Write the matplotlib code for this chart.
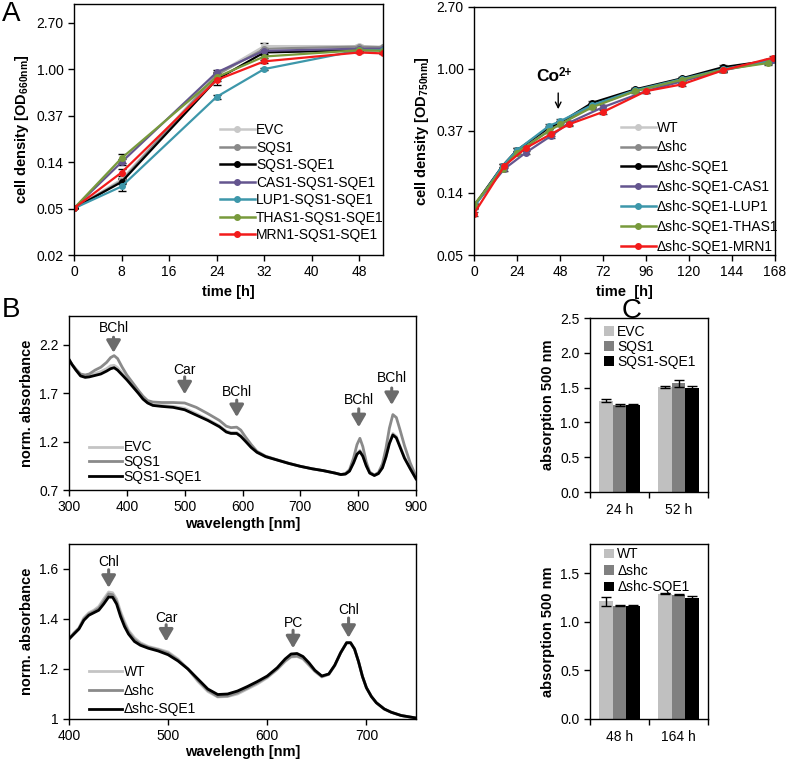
import numpy as np
import matplotlib
matplotlib.use('Agg')
import matplotlib.pyplot as plt
from matplotlib.patches import Patch
from matplotlib.lines import Line2D

plt.rcParams['font.family'] = ['Liberation Sans', 'DejaVu Sans']
plt.rcParams['mathtext.fontset'] = 'custom'
plt.rcParams['mathtext.rm'] = 'Liberation Sans'
plt.rcParams['mathtext.bf'] = 'Liberation Sans:bold'
plt.rcParams['font.size'] = 10

#%% Data
#-----------------------------------------------------------------------------------------------------------------------
# A left: growth, OD660
t_left = [0, 8, 24, 32, 48, 52]
left_names = ['EVC', 'SQS1', 'SQS1-SQE1', 'CAS1-SQS1-SQE1', 'LUP1-SQS1-SQE1', 'THAS1-SQS1-SQE1', 'MRN1-SQS1-SQE1']
od_evc = [0.05, 0.093, 0.90, 1.64, 1.64, 1.62]
od_sqs1 = [0.05, 0.090, 0.88, 1.55, 1.62, 1.60]
od_sqs1_sqe1 = [0.05, 0.088, 0.80, 1.43, 1.50, 1.51]
od_cas1 = [0.05, 0.135, 0.93, 1.48, 1.55, 1.55]
od_lup1 = [0.05, 0.080, 0.55, 1.00, 1.50, 1.50]
od_thas1 = [0.05, 0.147, 0.84, 1.31, 1.50, 1.48]
od_mrn1 = [0.05, 0.108, 0.79, 1.18, 1.43, 1.40]
err_evc = [0, 0.004, 0.03, 0.10, 0.03, 0.02]
err_sqs1 = [0, 0.004, 0.03, 0.04, 0.03, 0.02]
err_sqs1_sqe1 = [0, 0.004, 0.03, 0.04, 0.03, 0.02]
err_cas1 = [0, 0.008, 0.04, 0.05, 0.03, 0.02]
err_lup1 = [0, 0.008, 0.02, 0.03, 0.03, 0.02]
err_thas1 = [0, 0.015, 0.03, 0.04, 0.03, 0.02]
err_mrn1 = [0, 0.008, 0.08, 0.04, 0.03, 0.02]

# A right: growth, OD750
t_right1 = [0, 16, 24, 42, 48, 66, 90, 116, 139, 164]
t_right2 = [0, 17, 29, 43, 53, 72, 96, 116, 139, 167]
right_names = ['WT', '\u0394shc', '\u0394shc-SQE1', '\u0394shc-SQE1-CAS1', '\u0394shc-SQE1-LUP1',
               '\u0394shc-SQE1-THAS1', '\u0394shc-SQE1-MRN1']
od_wt = [0.11, 0.21, 0.27, 0.38, 0.42, 0.56, 0.71, 0.84, 1.00, 1.13]
od_shc = [0.11, 0.20, 0.26, 0.37, 0.41, 0.55, 0.70, 0.83, 0.98, 1.12]
od_shc_sqe1 = [0.11, 0.21, 0.27, 0.39, 0.42, 0.58, 0.72, 0.86, 1.03, 1.14]
od_shc_cas1 = [0.11, 0.20, 0.26, 0.34, 0.42, 0.54, 0.70, 0.82, 0.98, 1.16]
od_shc_lup1 = [0.108, 0.21, 0.27, 0.40, 0.43, 0.56, 0.71, 0.85, 1.00, 1.13]
od_shc_thas1 = [0.112, 0.20, 0.26, 0.37, 0.41, 0.54, 0.70, 0.84, 0.99, 1.10]
od_shc_mrn1 = [0.097, 0.21, 0.28, 0.35, 0.41, 0.50, 0.70, 0.78, 0.98, 1.20]

# B top: spectra (purple bacteria)
wl_top = [300, 305, 312, 320, 328, 335, 345, 355, 365, 372, 378, 384, 392, 400, 410, 420, 428, 436, 445, 460,
          480, 500, 520, 540, 560, 572, 580, 590, 597, 605, 615, 625, 640, 660, 680, 700, 720, 740, 760, 770,
          778, 785, 792, 798, 803, 808, 814, 820, 828, 835, 842, 848, 854, 860, 866, 872, 880, 890, 900]
abs_evc = [2.05, 2.00, 1.945, 1.89, 1.875, 1.885, 1.905, 1.925, 1.955, 1.985, 1.99, 1.965, 1.91, 1.855, 1.78, 1.71,
           1.65, 1.605, 1.58, 1.575, 1.565, 1.545, 1.49, 1.43, 1.365, 1.31, 1.295, 1.295, 1.265, 1.21, 1.145, 1.09,
           1.045, 1.01, 0.975, 0.945, 0.92, 0.90, 0.875, 0.86, 0.865, 0.897, 0.985, 1.08, 1.11, 1.06, 0.955, 0.875,
           0.85, 0.87, 0.93, 1.045, 1.19, 1.285, 1.255, 1.16, 1.04, 0.925, 0.82]
abs_sqs1 = [2.05, 2.00, 1.95, 1.90, 1.89, 1.90, 1.94, 1.97, 2.02, 2.07, 2.09, 2.06, 1.97, 1.89, 1.81, 1.73,
            1.67, 1.625, 1.61, 1.605, 1.605, 1.60, 1.555, 1.49, 1.42, 1.36, 1.345, 1.35, 1.32, 1.25, 1.17, 1.10,
            1.05, 1.012, 0.977, 0.945, 0.92, 0.90, 0.875, 0.86, 0.87, 0.91, 1.03, 1.17, 1.235, 1.15, 0.99, 0.885,
            0.855, 0.88, 0.97, 1.13, 1.34, 1.48, 1.45, 1.33, 1.16, 0.98, 0.84]
abs_sqs1_sqe1 = [2.05, 2.00, 1.94, 1.88, 1.865, 1.87, 1.885, 1.90, 1.93, 1.955, 1.965, 1.94, 1.89, 1.84, 1.77, 1.70,
                 1.64, 1.60, 1.575, 1.565, 1.555, 1.53, 1.475, 1.42, 1.355, 1.30, 1.285, 1.285, 1.255, 1.205, 1.14,
                 1.09, 1.045, 1.01, 0.975, 0.945, 0.92, 0.90, 0.875, 0.86, 0.865, 0.895, 0.98, 1.07, 1.097, 1.05,
                 0.95, 0.875, 0.85, 0.87, 0.93, 1.04, 1.18, 1.27, 1.24, 1.15, 1.03, 0.92, 0.815]

# B bottom: spectra (cyanobacteria)
wl_bot = [400, 405, 410, 415, 420, 425, 430, 435, 440, 444, 448, 452, 456, 460, 466, 472, 480, 490, 500, 510,
          520, 530, 540, 550, 560, 570, 580, 590, 600, 610, 618, 624, 630, 636, 642, 648, 655, 662, 668, 674,
          680, 684, 688, 692, 696, 700, 705, 710, 718, 725, 735, 750]
abs_wt = [1.32, 1.345, 1.365, 1.405, 1.425, 1.435, 1.45, 1.48, 1.508, 1.505, 1.48, 1.43, 1.39, 1.355, 1.325,
          1.305, 1.29, 1.28, 1.268, 1.24, 1.20, 1.15, 1.11, 1.088, 1.09, 1.10, 1.12, 1.14, 1.165, 1.198, 1.23,
          1.248, 1.25, 1.24, 1.215, 1.19, 1.168, 1.178, 1.213, 1.265, 1.305, 1.305, 1.28, 1.23, 1.17, 1.125,
          1.09, 1.065, 1.04, 1.027, 1.014, 1.004]
abs_shc = [1.32, 1.343, 1.362, 1.40, 1.42, 1.43, 1.443, 1.47, 1.50, 1.497, 1.47, 1.42, 1.38, 1.348, 1.318,
           1.30, 1.287, 1.277, 1.263, 1.236, 1.20, 1.155, 1.115, 1.09, 1.092, 1.105, 1.124, 1.145, 1.168, 1.20,
           1.233, 1.25, 1.252, 1.243, 1.218, 1.192, 1.17, 1.179, 1.214, 1.265, 1.305, 1.305, 1.28, 1.23, 1.17,
           1.125, 1.09, 1.065, 1.04, 1.027, 1.014, 1.004]
abs_shc_sqe1 = [1.32, 1.34, 1.36, 1.395, 1.415, 1.425, 1.435, 1.46, 1.488, 1.487, 1.46, 1.41, 1.37, 1.34, 1.31,
                1.295, 1.283, 1.272, 1.257, 1.232, 1.20, 1.16, 1.12, 1.098, 1.10, 1.112, 1.13, 1.15, 1.172, 1.205,
                1.24, 1.26, 1.262, 1.25, 1.225, 1.195, 1.172, 1.18, 1.215, 1.265, 1.305, 1.305, 1.28, 1.23, 1.17,
                1.125, 1.09, 1.065, 1.04, 1.027, 1.014, 1.004]

# C: absorption at 500 nm
c_top_groups = ['24 h', '52 h']
c_top_names = ['EVC', 'SQS1', 'SQS1-SQE1']
c_top_vals = [[1.31, 1.51], [1.25, 1.56], [1.25, 1.49]]
c_top_err = [[0.02, 0.01], [0.01, 0.05], [0.01, 0.04]]
c_bot_groups = ['48 h', '164 h']
c_bot_names = ['WT', '\u0394shc', '\u0394shc-SQE1']
c_bot_vals = [[1.21, 1.29], [1.165, 1.28], [1.165, 1.24]]
c_bot_err = [[0.05, 0.005], [0.005, 0.005], [0.01, 0.03]]

#%% Styles
#-----------------------------------------------------------------------------------------------------------------------
growth_colors = ['#c8c8c8', '#8a8a8a', '#000000', '#64558f', '#3d97aa', '#789a3c', '#f21b1b']
spec_colors = ['#c4c4c4', '#8a8a8a', '#000000']
bar_colors = ['#c0c0c0', '#808080', '#000000']
arrow_gray = '#6b6b6b'

W, H = 787, 759
fig = plt.figure(figsize=(W / 100, H / 100), dpi=100)


def px_axes(x0, y0, x1, y1):
    return fig.add_axes([x0 / W, 1 - y1 / H, (x1 - x0) / W, (y1 - y0) / H])


def style_box(ax):
    for s in ax.spines.values():
        s.set_linewidth(1.0)
        s.set_color('black')
    ax.tick_params(direction='out', length=4, width=1, labelsize=10)


def line_handles(colors):
    return [Line2D([], [], color=c, lw=1.8, marker='o', ms=4) for c in colors]


#%% A left
axA1 = px_axes(74, 4, 383, 255)
series = [od_evc, od_sqs1, od_sqs1_sqe1, od_cas1, od_lup1, od_thas1, od_mrn1]
errs = [err_evc, err_sqs1, err_sqs1_sqe1, err_cas1, err_lup1, err_thas1, err_mrn1]
for name, y, e, c in zip(left_names, series, errs, growth_colors):
    axA1.errorbar(t_left, y, yerr=e, color=c, lw=1.6, marker='o', ms=4,
                  ecolor='black', elinewidth=0.8, capsize=3)
axA1.set_yscale('log', base=np.e)
axA1.set_ylim(np.exp(-4), np.exp(1.4))
axA1.set_yticks(np.exp(np.arange(-4, 2)))
axA1.set_yticklabels(['0.02', '0.05', '0.14', '0.37', '1.00', '2.70'])
axA1.minorticks_off()
axA1.set_xlim(0, 52)
axA1.set_xticks(np.arange(0, 49, 8))
axA1.set_xlabel('time [h]', fontweight='bold', fontsize=10.5)
axA1.set_ylabel(r'cell density [OD$_{\mathbf{660nm}}$]', fontweight='bold', fontsize=10.5)
style_box(axA1)
axA1.legend(line_handles(growth_colors), left_names, loc='upper left', bbox_to_anchor=(0.45, 0.553),
            frameon=False, borderpad=0, handlelength=2.5, handletextpad=0.1, labelspacing=0.25, fontsize=10)

#%% A right
axA2 = px_axes(474, 7, 775, 255)
series = [od_wt, od_shc, od_shc_sqe1, od_shc_cas1, od_shc_lup1, od_shc_thas1, od_shc_mrn1]
times = [t_right1, t_right1, t_right1, t_right2, t_right1, t_right1, t_right2]
for name, t, y, c in zip(right_names, times, series, growth_colors):
    axA2.errorbar(t, y, yerr=np.array(y) * 0.03, color=c, lw=1.6, marker='o', ms=4,
                  ecolor='#444444', elinewidth=0.8, capsize=3)
axA2.set_yscale('log', base=np.e)
axA2.set_ylim(np.exp(-3), np.exp(1))
axA2.set_yticks(np.exp(np.arange(-3, 2)))
axA2.set_yticklabels(['0.05', '0.14', '0.37', '1.00', '2.70'])
axA2.minorticks_off()
axA2.set_xlim(0, 168)
axA2.set_xticks(np.arange(0, 169, 24))
axA2.set_xlabel('time  [h]', fontweight='bold', fontsize=10.5)
axA2.set_ylabel(r'cell density [OD$_{\mathbf{750nm}}$]', fontweight='bold', fontsize=10.5)
style_box(axA2)
axA2.annotate('', xy=(47, 0.50), xytext=(47, 0.71),
              arrowprops=dict(arrowstyle='->', color='black', lw=1.0))
axA2.text(47.5, 0.78, 'Co', ha='right', va='bottom', fontsize=12.5, fontweight='bold')
axA2.text(47.5, 0.85, '2+', ha='left', va='bottom', fontsize=8.5, fontweight='bold')
axA2.legend(line_handles(growth_colors), right_names, loc='upper left', bbox_to_anchor=(0.465, 0.57),
            frameon=False, borderpad=0, handlelength=2.5, handletextpad=0.1, labelspacing=0.42, fontsize=10)


def peak_arrow(ax, x, y_label, y_tail, y_head, text):
    ax.annotate('', xy=(x, y_head), xytext=(x, y_tail),
                arrowprops=dict(arrowstyle='-|>,head_width=0.35,head_length=0.6',
                                color=arrow_gray, lw=2.2, mutation_scale=12, shrinkA=0, shrinkB=0))
    ax.text(x, y_label, text, ha='center', va='center', fontsize=10)


#%% B top
axB1 = px_axes(69, 316, 416, 490)
for name, y, c in zip(['EVC', 'SQS1', 'SQS1-SQE1'], [abs_evc, abs_sqs1, abs_sqs1_sqe1], spec_colors):
    axB1.plot(wl_top, y, color=c, lw=2.0, label=name)
axB1.set_xlim(300, 900)
axB1.set_ylim(0.7, 2.5)
axB1.set_yticks([0.7, 1.2, 1.7, 2.2])
axB1.set_xlabel('wavelength [nm]', fontweight='bold', fontsize=10.5, labelpad=2)
axB1.set_ylabel('norm. absorbance', fontweight='bold', fontsize=10.5)
style_box(axB1)
peak_arrow(axB1, 377, 2.375, 2.28, 2.12, 'BChl')
peak_arrow(axB1, 500, 1.94, 1.87, 1.69, 'Car')
peak_arrow(axB1, 590, 1.71, 1.63, 1.455, 'BChl')
peak_arrow(axB1, 801, 1.63, 1.54, 1.35, 'BChl')
peak_arrow(axB1, 858, 1.86, 1.755, 1.58, 'BChl')
axB1.legend(loc='upper left', bbox_to_anchor=(0.037, 0.325), frameon=False, borderpad=0,
            handlelength=2.4, handletextpad=0.1, labelspacing=0.05, fontsize=10)

#%% B bottom
axB2 = px_axes(69, 544, 416, 719)
for name, y, c in zip(['WT', '\u0394shc', '\u0394shc-SQE1'], [abs_wt, abs_shc, abs_shc_sqe1], spec_colors):
    axB2.plot(wl_bot, y, color=c, lw=2.0, label=name)
axB2.set_xlim(400, 750)
axB2.set_ylim(1.0, 1.7)
axB2.set_xticks([400, 500, 600, 700])
axB2.set_yticks([1.0, 1.2, 1.4, 1.6])
axB2.set_yticklabels(['1', '1.2', '1.4', '1.6'])
axB2.set_xlabel('wavelength [nm]', fontweight='bold', fontsize=10.5, labelpad=1)
axB2.set_ylabel('norm. absorbance', fontweight='bold', fontsize=10.5)
style_box(axB2)
peak_arrow(axB2, 440, 1.63, 1.597, 1.525, 'Chl')
peak_arrow(axB2, 498, 1.404, 1.377, 1.31, 'Car')
peak_arrow(axB2, 626, 1.384, 1.355, 1.283, 'PC')
peak_arrow(axB2, 682, 1.437, 1.404, 1.325, 'Chl')
axB2.legend(loc='upper left', bbox_to_anchor=(0.037, 0.35), frameon=False, borderpad=0,
            handlelength=2.4, handletextpad=0.1, labelspacing=0.35, fontsize=10)


#%% C bars
def bar_panel(ax, groups, names, vals, errs, ylim, yticks, lsp, top):
    x = np.arange(len(groups))
    bw = 0.226
    for i, (name, v, e, c) in enumerate(zip(names, vals, errs, bar_colors)):
        ax.bar(x + (i - 1) * bw, v, bw, yerr=e, color=c, label=name,
               error_kw=dict(ecolor='black', elinewidth=1, capsize=3.5, capthick=1))
    ax.set_xlim(-0.5, len(groups) - 0.5)
    ax.set_ylim(*ylim)
    ax.set_yticks(yticks)
    ax.yaxis.set_major_formatter(matplotlib.ticker.FormatStrFormatter('%.1f'))
    ax.set_xticks(np.arange(len(groups) + 1) - 0.5)
    ax.set_xticklabels([''] * (len(groups) + 1))
    ax.set_xticks(x, minor=True)
    ax.set_xticklabels(groups, minor=True)
    ax.set_ylabel('absorption 500 nm', fontweight='bold', fontsize=10.5)
    style_box(ax)
    ax.tick_params(axis='x', which='minor', length=0, labelsize=10, pad=8)
    handles = [Patch(facecolor=c, edgecolor='none') for c in bar_colors]
    ax.legend(handles, names, loc='upper left', bbox_to_anchor=(0.06, top), frameon=False, borderpad=0,
              handlelength=0.7, handleheight=0.7, handletextpad=0.25, labelspacing=lsp, fontsize=10)


axC1 = px_axes(590, 318, 708, 492)
bar_panel(axC1, c_top_groups, c_top_names, c_top_vals, c_top_err, (0, 2.5), np.arange(0, 2.51, 0.5), 0.08, 1.0)
axC2 = px_axes(590, 544, 708, 719)
bar_panel(axC2, c_bot_groups, c_bot_names, c_bot_vals, c_bot_err, (0, 1.8), np.arange(0, 1.51, 0.5), 0.18, 1.02)

#%% Panel letters
fig.text(2 / W, 1 - 1 / H, 'A', fontsize=20, va='top', ha='left')
fig.text(2 / W, 1 - 297 / H, 'B', fontsize=20, va='top', ha='left')
fig.text(622 / W, 1 - 298 / H, 'C', fontsize=20, va='top', ha='left')

fig.savefig('out.png', dpi=100)
